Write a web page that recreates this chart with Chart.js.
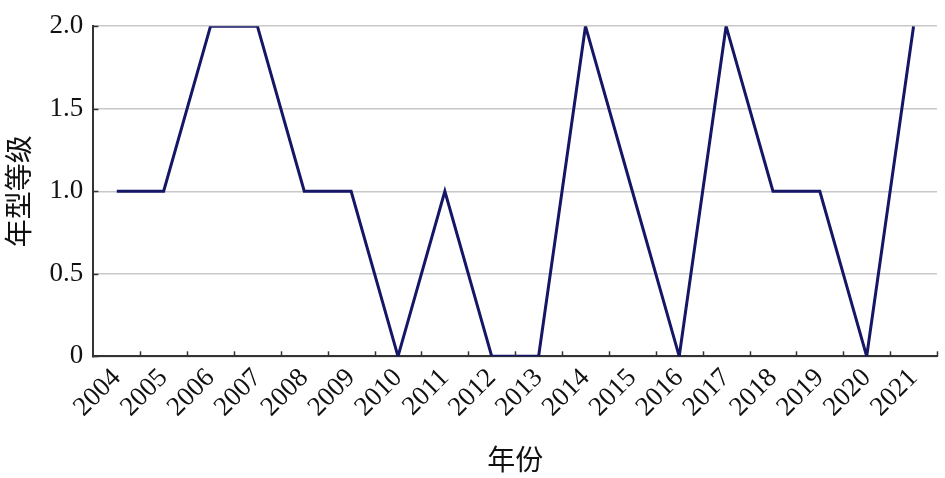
<!DOCTYPE html>
<html lang="zh">
<head>
<meta charset="UTF-8" />
<title>年型等级</title>
<script src="https://cdn.jsdelivr.net/npm/chart.js"></script>
<style>
  html, body { margin: 0; padding: 0; background: #fff; }
  #wrap { width: 945px; height: 478px; }
</style>
</head>
<body>
<div id="wrap"><canvas id="c"></canvas></div>
<script>
  // data
  const years = ['2004','2005','2006','2007','2008','2009','2010','2011','2012',
                 '2013','2014','2015','2016','2017','2018','2019','2020','2021'];
  const grade = [1, 1, 2, 2, 1, 1, 0, 1, 0, 0, 2, 1, 0, 2, 1, 1, 0, 2];
  const yTicks = [0, 0.5, 1.0, 1.5, 2.0];

  const serif = "'Liberation Serif', 'Times New Roman', serif";
  const cjk = "'Noto Sans CJK SC', serif";

  // small tick marks pointing into the plot, like the original
  const innerTicks = {
    id: 'innerTicks',
    afterDraw(chart) {
      const { ctx, scales: { x, y } } = chart;
      ctx.save();
      ctx.strokeStyle = '#333';
      ctx.lineWidth = 1.5;
      const step = x.getPixelForValue(1) - x.getPixelForValue(0);
      for (let i = 1; i <= years.length; i++) {
        const px = Math.round(x.getPixelForValue(i) - step / 2) + 0.5;
        ctx.beginPath();
        ctx.moveTo(px, y.bottom);
        ctx.lineTo(px, y.bottom - 5);
        ctx.stroke();
      }
      yTicks.forEach(v => {
        const py = Math.round(y.getPixelForValue(v)) + 0.5;
        ctx.beginPath();
        ctx.moveTo(x.left, py);
        ctx.lineTo(x.left + 5, py);
        ctx.stroke();
      });
      ctx.restore();
    }
  };

  new Chart(document.getElementById('c'), {
    type: 'line',
    data: {
      labels: years,
      datasets: [{
        data: grade,
        borderColor: '#161666',
        borderWidth: 3,
        pointRadius: 0,
        tension: 0,
        fill: false
      }]
    },
    options: {
      responsive: true,
      maintainAspectRatio: false,
      animation: false,
      layout: { padding: { left: 2, right: 8, top: 12, bottom: 2 } },
      plugins: { legend: { display: false }, tooltip: { enabled: false } },
      scales: {
        x: {
          offset: true,
          grid: { display: false, drawTicks: false },
          border: { display: true, color: '#333', width: 2 },
          ticks: {
            color: '#111',
            font: { family: serif, size: 27 },
            minRotation: 45,
            maxRotation: 45,
            autoSkip: false,
            padding: 6
          },
          title: {
            display: true,
            text: '年份',
            color: '#111',
            font: { family: cjk, size: 28 },
            padding: { top: 13, bottom: 0 }
          }
        },
        y: {
          min: 0,
          max: 2,
          afterBuildTicks(scale) { scale.ticks = yTicks.map(v => ({ value: v })); },
          grid: { color: '#c8c8c8', lineWidth: 1.5, drawTicks: false },
          border: { display: true, color: '#333', width: 2 },
          ticks: {
            color: '#111',
            font: { family: serif, size: 27 },
            padding: 10,
            callback: v => v === 0 ? '0' : v.toFixed(1)
          },
          title: {
            display: true,
            text: '年型等级',
            color: '#111',
            font: { family: cjk, size: 28 },
            padding: { top: 0, bottom: 4 }
          }
        }
      }
    },
    plugins: [innerTicks]
  });
</script>
</body>
</html>
